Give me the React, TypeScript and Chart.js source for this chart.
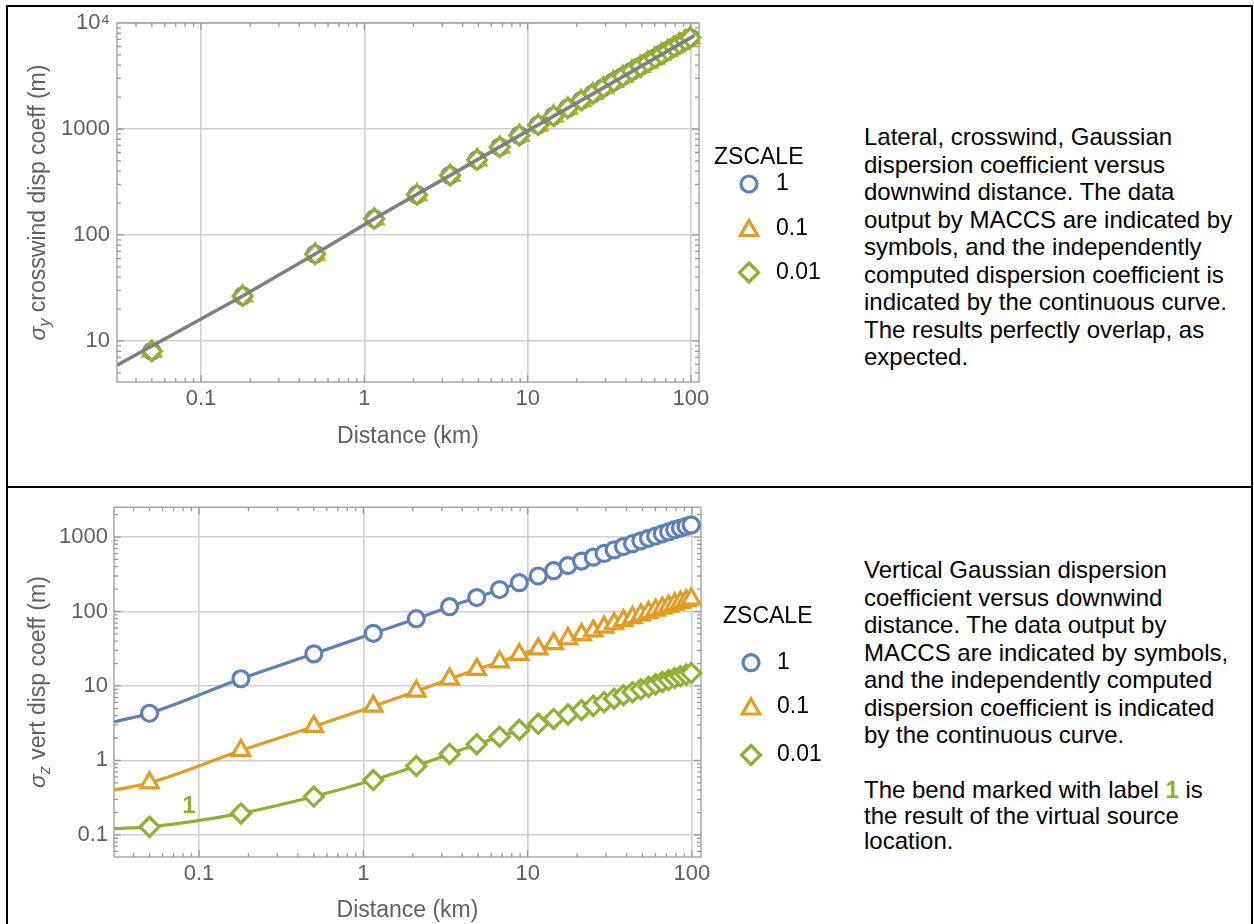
import React, { useEffect, useRef } from "react";
import { Chart, registerables } from "chart.js";

Chart.register(...registerables);

const FONT = '"Liberation Sans", Arial, Helvetica, sans-serif';
const LABEL_GRAY = "#5f5f5f";
const FRAME_GRAY = "#9b9b9b";
const GRID_GRAY = "#cfcfcf";

// Downwind distances of the MACCS radial grid (km)
const distanceKm = [
  0.05, 0.18, 0.5, 1.15, 2.1, 3.35, 4.9, 6.75, 8.9, 11.6, 14.4, 17.6, 21.3,
  25.1, 29.2, 33.6, 38.3, 43.5, 48.9, 54.4, 60.1, 66.0, 72.1, 78.5, 85.1,
  92.2, 99.0,
];

// ZSCALE values and their marker styling
const zscaleLabels = ["1", "0.1", "0.01"];
const zscaleColors = ["#5e81b5", "#e19c24", "#8fb032"];
const zscaleMarkers = ["circle", "triangle", "rectRot"];
const zscaleRadius = [8, 10, 9.5];

// σy reported by MACCS (m); crosswind spread does not depend on ZSCALE
const sigmaYMaccs = [
  8.0, 26.6, 66, 142, 240, 365, 512, 675, 870, 1092, 1325, 1572, 1858, 2150,
  2460, 2796, 3140, 3515, 3895, 4280, 4670, 5080, 5500, 5940, 6380, 6800, 7250,
];

// Independently computed σy curve
const sigmaYCurveKm = [0.0306, 0.1, 0.18, 0.5, 1.15, 3.35, 10, 30, 105];
const sigmaYCurve = [5.9, 16.1, 26.6, 66, 142, 365, 960, 2510, 7600];

// σz reported by MACCS (m) for ZSCALE = 1, 0.1, 0.01
const sigmaZScale1 = [
  4.3, 12.5, 27, 51, 80, 116, 154, 197, 244, 300, 353, 414, 476, 537, 603, 673,
  745, 815, 891, 963, 1033, 1106, 1174, 1256, 1320, 1390, 1454,
];
const sigmaZScale01 = [
  0.5, 1.36, 2.86, 5.35, 8.5, 12.4, 16.7, 21.0, 26.5, 31.5, 37, 43, 49, 55,
  61.5, 68.5, 75.5, 83, 90, 97, 104, 111, 118, 126, 133, 140, 147,
];
const sigmaZScale001 = [
  0.128, 0.194, 0.327, 0.545, 0.84, 1.22, 1.65, 2.08, 2.57, 3.1, 3.6, 4.15,
  4.75, 5.4, 6.05, 6.75, 7.5, 8.25, 9.0, 9.75, 10.5, 11.3, 12.0, 12.8, 13.5,
  14.2, 14.9,
];
// Where the computed σz curves enter the plot at the left edge
const sigmaZCurveStartKm = 0.0305;
const sigmaZCurveStart = [3.3, 0.4, 0.121];

// Axis ranges and tick labels
const xRangeY = [0.0306, 112];
const xRangeZ = [0.0304, 113.5];
const sigmaYRange = [4.1, 10000];
const sigmaZRange = [0.0504, 2518];
const xTickValues = [0.1, 1, 10, 100];
const xTickLabels = ["0.1", "1", "10", "100"];
const sigmaYTickValues = [10, 100, 1000, 10000];
const sigmaYTickLabels = ["10", "100", "1000", "10\u2074"];
const sigmaZTickValues = [0.1, 1, 10, 100, 1000];
const sigmaZTickLabels = ["0.1", "1", "10", "100", "1000"];

// Label marking the bend of the ZSCALE = 0.01 curve
const bendLabel = { text: "1", km: 0.087, sigma: 0.244 };

const pts = (xs: number[], ys: number[]) => xs.map((x, i) => ({ x, y: ys[i] }));

type Run = { text: string; font: string; dy?: number };

function drawRuns(ctx: CanvasRenderingContext2D, runs: Run[], cx: number, baseY: number) {
  let total = 0;
  for (const r of runs) {
    ctx.font = r.font;
    total += ctx.measureText(r.text).width;
  }
  let x = cx - total / 2;
  for (const r of runs) {
    ctx.font = r.font;
    ctx.fillText(r.text, x, baseY + (r.dy || 0));
    x += ctx.measureText(r.text).width;
  }
}

function markerPath(ctx: CanvasRenderingContext2D, style: string, x: number, y: number, r: number) {
  ctx.beginPath();
  if (style === "circle") {
    ctx.arc(x, y, r, 0, Math.PI * 2);
  } else {
    const n = style === "triangle" ? 3 : 4;
    for (let i = 0; i < n; i++) {
      const a = (i * Math.PI * 2) / n;
      const px = x + Math.sin(a) * r;
      const py = y - Math.cos(a) * r;
      if (i === 0) ctx.moveTo(px, py);
      else ctx.lineTo(px, py);
    }
    ctx.closePath();
  }
}

type PanelCfg = {
  yTitle: Run[];
  yTitleX: number;
  xTitle: string;
  xTitleBase: number;
  legend: { titleX: number; titleY: number; markerX: number; textX: number; rows: number[] };
  annotation?: boolean;
};

function panelPlugin(cfg: PanelCfg) {
  return {
    id: "panelDecor",
    beforeDatasetsDraw(chart: any) {
      const { ctx, chartArea: a, scales } = chart;
      const xs = scales.x;
      const ys = scales.y;
      ctx.save();
      ctx.strokeStyle = FRAME_GRAY;
      ctx.lineWidth = 1.3;
      ctx.strokeRect(a.left, a.top, a.right - a.left, a.bottom - a.top);
      ctx.beginPath();
      const logTicks = (min: number, max: number) => {
        const out: { v: number; major: boolean }[] = [];
        for (let k = Math.floor(Math.log10(min)); k <= Math.ceil(Math.log10(max)); k++) {
          for (let m = 1; m <= 9; m++) out.push({ v: m * Math.pow(10, k), major: m === 1 });
        }
        return out;
      };
      for (const t of logTicks(xs.min, xs.max)) {
        const px = xs.getPixelForValue(t.v);
        if (px < a.left + 0.5 || px > a.right - 0.5) continue;
        const len = t.major ? 7 : 4;
        ctx.moveTo(px, a.bottom);
        ctx.lineTo(px, a.bottom - len);
        ctx.moveTo(px, a.top);
        ctx.lineTo(px, a.top + len);
      }
      for (const t of logTicks(ys.min, ys.max)) {
        const py = ys.getPixelForValue(t.v);
        if (py < a.top + 0.5 || py > a.bottom - 0.5) continue;
        const len = t.major ? 7 : 4;
        ctx.moveTo(a.left, py);
        ctx.lineTo(a.left + len, py);
        ctx.moveTo(a.right, py);
        ctx.lineTo(a.right - len, py);
      }
      ctx.stroke();
      ctx.restore();
    },
    afterDraw(chart: any) {
      const { ctx, chartArea: a, scales } = chart;
      ctx.save();
      ctx.fillStyle = LABEL_GRAY;
      ctx.textBaseline = "alphabetic";
      ctx.textAlign = "left";
      // x axis title
      drawRuns(ctx, [{ text: cfg.xTitle, font: `23px ${FONT}` }], (a.left + a.right) / 2, cfg.xTitleBase);
      // rotated y axis title
      ctx.save();
      ctx.translate(cfg.yTitleX, (a.top + a.bottom) / 2);
      ctx.rotate(-Math.PI / 2);
      drawRuns(ctx, cfg.yTitle, 0, 0);
      ctx.restore();
      // legend
      const L = cfg.legend;
      ctx.fillStyle = "#000";
      ctx.textBaseline = "middle";
      ctx.font = `23px ${FONT}`;
      ctx.fillText("ZSCALE", L.titleX, L.titleY);
      L.rows.forEach((ry, i) => {
        ctx.lineWidth = 3.2;
        ctx.strokeStyle = zscaleColors[i];
        ctx.fillStyle = "#fff";
        markerPath(ctx, zscaleMarkers[i], L.markerX, ry + (i === 1 ? 2 : 0), zscaleRadius[i]);
        ctx.fill();
        ctx.stroke();
        ctx.fillStyle = "#000";
        ctx.fillText(zscaleLabels[i], L.textX, ry);
      });
      if (cfg.annotation) {
        ctx.fillStyle = zscaleColors[2];
        ctx.font = `bold 24px ${FONT}`;
        ctx.textAlign = "center";
        ctx.fillText(
          bendLabel.text,
          scales.x.getPixelForValue(bendLabel.km),
          scales.y.getPixelForValue(bendLabel.sigma)
        );
      }
      ctx.restore();
    },
  };
}

function makeScales(
  xr: number[],
  yr: number[],
  yTicks: number[],
  yLabels: string[],
  yWidth: number,
  xHeight: number,
  yPad: number
) {
  const tickFont = { size: 22, family: FONT };
  return {
    x: {
      type: "logarithmic",
      min: xr[0],
      max: xr[1],
      afterFit: (s: any) => {
        s.height = xHeight;
      },
      afterBuildTicks: (s: any) => {
        s.ticks = xTickValues.map((value) => ({ value }));
      },
      ticks: {
        callback: (v: any) => xTickLabels[xTickValues.indexOf(Number(v))] ?? "",
        font: tickFont,
        color: LABEL_GRAY,
        padding: 4,
        maxRotation: 0,
        autoSkip: false,
      },
      grid: { color: GRID_GRAY, lineWidth: 1.6, drawTicks: false },
      border: { display: false },
    },
    y: {
      type: "logarithmic",
      min: yr[0],
      max: yr[1],
      afterFit: (s: any) => {
        s.width = yWidth;
      },
      afterBuildTicks: (s: any) => {
        s.ticks = yTicks.map((value) => ({ value }));
      },
      ticks: {
        callback: (v: any) => yLabels[yTicks.indexOf(Number(v))] ?? "",
        font: tickFont,
        color: LABEL_GRAY,
        padding: yPad,
        autoSkip: false,
      },
      grid: { color: GRID_GRAY, lineWidth: 1.6, drawTicks: false },
      border: { display: false },
    },
  };
}

function markerDataset(i: number, ys: number[]) {
  return {
    label: zscaleLabels[i],
    data: pts(distanceKm, ys),
    showLine: false,
    pointStyle: zscaleMarkers[i],
    pointRadius: zscaleRadius[i],
    pointBorderWidth: 3.2,
    pointBorderColor: zscaleColors[i],
    pointBackgroundColor: "#ffffff",
    clip: false,
  };
}

function sigmaYConfig(): any {
  return {
    type: "scatter",
    data: {
      datasets: [
        {
          label: "computed",
          data: pts(sigmaYCurveKm, sigmaYCurve),
          showLine: true,
          borderColor: "#7f7f7f",
          borderWidth: 3.5,
          pointRadius: 0,
        },
        markerDataset(2, sigmaYMaccs),
        markerDataset(1, sigmaYMaccs),
        markerDataset(0, sigmaYMaccs),
      ],
    },
    options: {
      responsive: false,
      animation: false,
      devicePixelRatio: 1,
      events: [],
      layout: { padding: { top: 23, left: 0, right: 131, bottom: 0 } },
      plugins: { legend: { display: false }, tooltip: { enabled: false } },
      scales: makeScales(xRangeY, sigmaYRange, sigmaYTickValues, sigmaYTickLabels, 117, 104, 7),
    },
    plugins: [
      panelPlugin({
        yTitle: [
          { text: "\u03c3", font: `italic 23px ${FONT}` },
          { text: "y", font: `italic 16px ${FONT}`, dy: 5 },
          { text: " crosswind disp coeff (m)", font: `23px ${FONT}` },
        ],
        yTitleX: 45,
        xTitle: "Distance (km)",
        xTitleBase: 443,
        legend: { titleX: 714, titleY: 158, markerX: 749, textX: 776, rows: [184, 228.5, 272.5] },
      }),
    ],
  };
}

function sigmaZConfig(): any {
  const series = [sigmaZScale1, sigmaZScale01, sigmaZScale001];
  const curves = series.map((ys, i) => ({
    label: `computed ${zscaleLabels[i]}`,
    data: [{ x: sigmaZCurveStartKm, y: sigmaZCurveStart[i] }, ...pts(distanceKm, ys)],
    showLine: true,
    borderColor: zscaleColors[i],
    borderWidth: 3.2,
    pointRadius: 0,
    cubicInterpolationMode: "monotone",
    tension: 0.4,
  }));
  return {
    type: "scatter",
    data: {
      datasets: [
        markerDataset(0, sigmaZScale1),
        markerDataset(1, sigmaZScale01),
        markerDataset(2, sigmaZScale001),
        ...curves,
      ],
    },
    options: {
      responsive: false,
      animation: false,
      devicePixelRatio: 1,
      events: [],
      layout: { padding: { top: 6, left: 0, right: 129, bottom: 0 } },
      plugins: { legend: { display: false }, tooltip: { enabled: false } },
      scales: makeScales(xRangeZ, sigmaZRange, sigmaZTickValues, sigmaZTickLabels, 114, 67, 6),
    },
    plugins: [
      panelPlugin({
        yTitle: [
          { text: "\u03c3", font: `italic 23px ${FONT}` },
          { text: "z", font: `italic 16px ${FONT}`, dy: 5 },
          { text: " vert disp coeff (m)", font: `23px ${FONT}` },
        ],
        yTitleX: 45,
        xTitle: "Distance (km)",
        xTitleBase: 429,
        legend: { titleX: 723, titleY: 129, markerX: 751, textX: 777, rows: [174.7, 219, 267] },
        annotation: true,
      }),
    ],
  };
}

function ChartCanvas({
  make,
  left,
  top,
  width,
  height,
}: {
  make: () => any;
  left: number;
  top: number;
  width: number;
  height: number;
}) {
  const ref = useRef<HTMLCanvasElement>(null);
  useEffect(() => {
    const chart = new Chart(ref.current as HTMLCanvasElement, make());
    return () => chart.destroy();
  }, []);
  return (
    <canvas
      ref={ref}
      width={width}
      height={height}
      style={{ position: "absolute", left, top, width, height }}
    />
  );
}

const topCaption = [
  "Lateral, crosswind, Gaussian",
  "dispersion coefficient versus",
  "downwind distance. The data",
  "output by MACCS are indicated by",
  "symbols, and the independently",
  "computed dispersion coefficient is",
  "indicated by the continuous curve.",
  "The results perfectly overlap, as",
  "expected.",
];

const bottomCaption: React.ReactNode[] = [
  "Vertical Gaussian dispersion",
  "coefficient versus downwind",
  "distance. The data output by",
  "MACCS are indicated by symbols,",
  "and the independently computed",
  "dispersion coefficient is indicated",
  "by the continuous curve.",
];

const bendCaption: React.ReactNode[] = [
  <span>
    The bend marked with label <b style={{ color: zscaleColors[2] }}>1</b> is
  </span>,
  "the result of the virtual source",
  "location.",
];

function Lines({
  lines,
  left,
  top,
  lineH,
}: {
  lines: React.ReactNode[];
  left: number;
  top: number;
  lineH: number;
}) {
  return (
    <div
      style={{
        position: "absolute",
        left,
        top: top - lineH / 2,
        fontFamily: FONT,
        fontSize: 24,
        lineHeight: `${lineH}px`,
        color: "#000",
        whiteSpace: "nowrap",
      }}
    >
      {lines.map((l, i) => (
        <div key={i}>{l}</div>
      ))}
    </div>
  );
}

export default function App() {
  const bar = (s: React.CSSProperties) => (
    <div style={{ position: "absolute", background: "#000", ...s }} />
  );
  return (
    <div
      style={{
        position: "absolute",
        left: 0,
        top: 0,
        width: 1254,
        height: 924,
        background: "#fff",
        overflow: "hidden",
      }}
    >
      <ChartCanvas make={sigmaYConfig} left={0} top={0} width={830} height={486} />
      <ChartCanvas make={sigmaZConfig} left={0} top={488} width={830} height={436} />
      <Lines lines={topCaption} left={864} top={137} lineH={27.5} />
      <Lines lines={bottomCaption} left={864} top={570} lineH={27.5} />
      <Lines lines={bendCaption} left={864} top={790} lineH={25.5} />
      {bar({ left: 6, top: 5, width: 2, height: 919 })}
      {bar({ left: 6, top: 5, width: 1247, height: 2 })}
      {bar({ left: 1251, top: 5, width: 2, height: 919 })}
      {bar({ left: 6, top: 486, width: 1247, height: 2 })}
    </div>
  );
}
